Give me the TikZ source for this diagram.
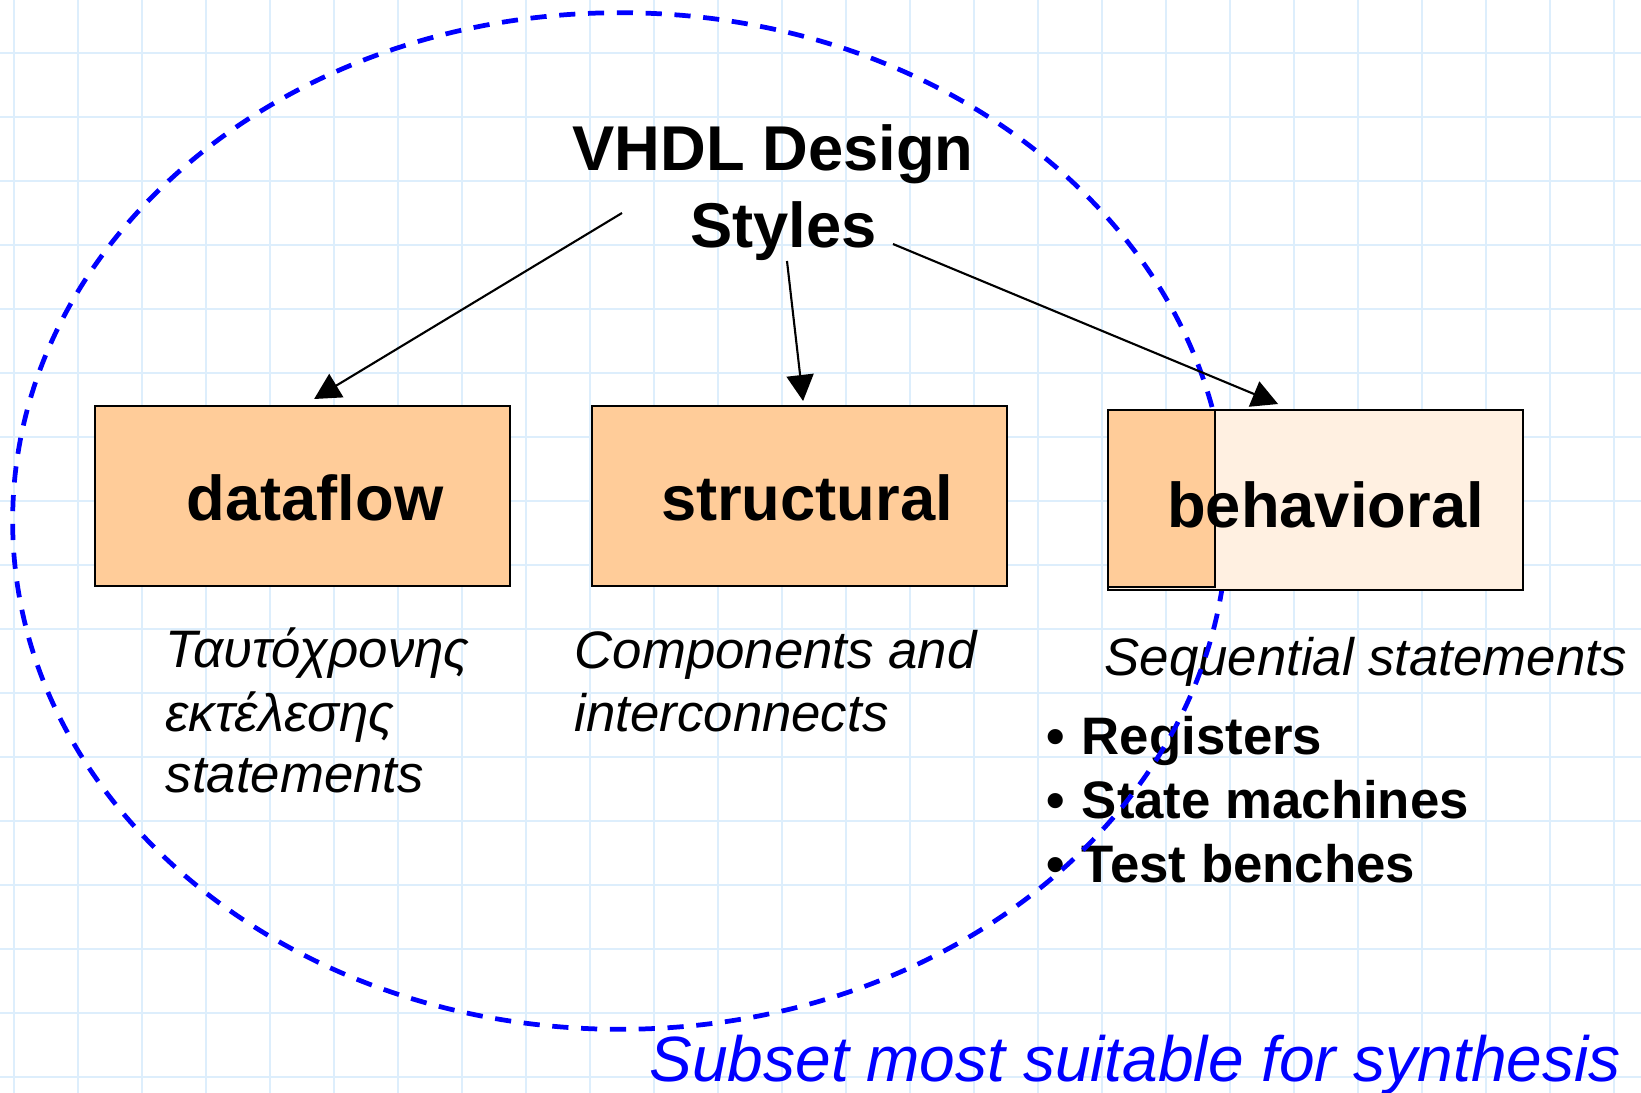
\documentclass[tikz,border=0pt]{standalone}
\usepackage{fontspec}
\setmainfont{Liberation Sans}
\usetikzlibrary{arrows.meta,calc}
\definecolor{gridblue}{RGB}{221,238,252}
\definecolor{boxorange}{RGB}{255,204,153}
\definecolor{boxlight}{RGB}{255,240,225}
\begin{document}
\begin{tikzpicture}[x=0.01cm,y=-0.01cm,
  gridline/.style={gridblue,line width=0.65pt},
  stylebox/.style={draw=black,line width=0.55pt,fill=boxorange,inner sep=0,anchor=north west},
  boldlabel/.style={font=\fontsize{18}{21.6}\selectfont\bfseries,inner sep=0,anchor=base},
  captiontext/.style={font=\fontsize{15}{18}\selectfont\itshape,inner sep=0,anchor=base west},
  bullettext/.style={font=\fontsize{15}{18}\selectfont\bfseries,inner sep=0,anchor=base west},
  link/.style={line width=0.6pt,-{Triangle[length=7.4pt,width=7.7pt]}},
  synth/.style={blue,dash pattern=on 4.6pt off 3.6pt,line width=1.35pt}]
\useasboundingbox (0,0) rectangle (1641,1093);
\fill[white] (0,0) rectangle (1641,1093);
\foreach \gx in {14,78,...,1640} \draw[gridline] (\gx,0) -- (\gx,1093);
\foreach \gy in {53,117,...,1093} \draw[gridline] (0,\gy) -- (1641,\gy);

% captions
\node[captiontext] (g1) at (165,667) {Ταυτόχρονης};
\node[captiontext] (g2) at (165,731) {εκτέλεσης};
\node[captiontext] (g3) at (165,792) {statements};
\node[captiontext] (c1) at (574,668) {Components and};
\node[captiontext] (c2) at (574,731) {interconnects};
\node[captiontext] (s1) at (1104,675) {Sequential statements};

% bullets
\node[bullettext] (b1) at (1046,754) {\makebox[10pt][l]{•}Registers};
\node[bullettext] (b2) at (1046,818) {\makebox[10pt][l]{•}State machines};
\node[bullettext] (b3) at (1046,882) {\makebox[10pt][l]{•}Test benches};

% synthesis subset
\node[font=\fontsize{18.2}{22}\selectfont\itshape,text=blue,inner sep=0,anchor=base west] (sub) at (649,1081) {Subset most suitable for synthesis};
\draw[synth] (620,521) ellipse [x radius=6.07cm, y radius=5.08cm];

% boxes
\node[stylebox,minimum width=4.15cm,minimum height=1.8cm] (df) at (94,405) {};
\node[stylebox,minimum width=4.15cm,minimum height=1.8cm] (st) at (591,405) {};
\node[stylebox,fill=boxlight,minimum width=4.15cm,minimum height=1.8cm] (bh) at (1107,409) {};
\node[stylebox,minimum width=1.07cm,minimum height=1.77cm] (bhl) at (1107,409) {};
\node[boldlabel] (dft) at (315,520) {dataflow};
\node[boldlabel] (stt) at (807,520) {structural};
\node[boldlabel] (bht) at (1325.5,527) {behavioral};

% title
\node[boldlabel] (t1) at (773,170) {VHDL Design};
\node[boldlabel] (t2) at (783.5,247) {Styles};

% arrows
\coordinate (a1) at (622,213);
\coordinate (a2) at (787,261);
\coordinate (a3) at (893,244);
\draw[link] (a1) -- ($(df.north)+(11.5,-6)$);
\draw[link] (a2) -- ($(st.north)+(3.5,-4)$);
\draw[link] (a3) -- ($(bh.north)+(-37.5,-5)$);
\end{tikzpicture}
\end{document}
